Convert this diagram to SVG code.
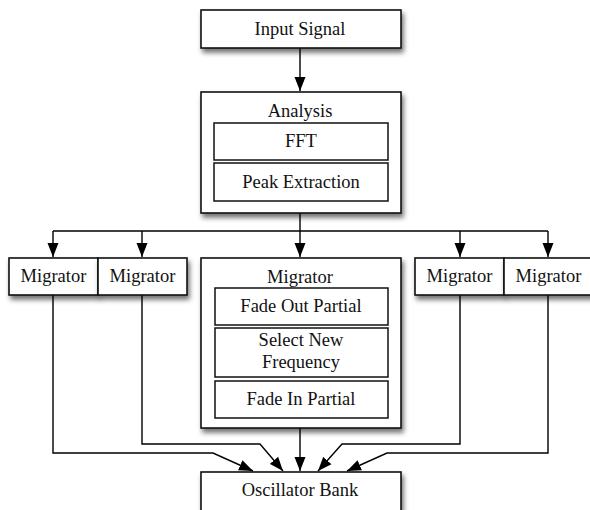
<svg xmlns="http://www.w3.org/2000/svg" width="590" height="510" viewBox="0 0 590 510">
<defs>
<filter id="sh" x="-10%" y="-10%" width="130%" height="140%">
<feDropShadow dx="2" dy="4" stdDeviation="2.5" flood-color="#000" flood-opacity="0.55"/>
</filter>
<marker id="ah" markerUnits="userSpaceOnUse" markerWidth="14" markerHeight="12" viewBox="0 0 14 12" refX="14" refY="6" orient="auto">
<path d="M0,0.5 L14,6 L0,11.5 z" fill="#000"/>
</marker>
<style>
.box{fill:#fff;stroke:#111;stroke-width:1.6}
.in{fill:#fff;stroke:#111;stroke-width:1.5}
.t{font-family:"Liberation Serif","Times New Roman",serif;font-size:18.5px;fill:#111;text-anchor:middle}
.c{fill:none;stroke:#000;stroke-width:1.4}
.a{fill:none;stroke:#000;stroke-width:1.4;marker-end:url(#ah)}
</style>
</defs>
<rect width="590" height="510" fill="#fff"/>

<g id="connectors">
<path class="a" d="M300,48 V91"/>
<path class="a" d="M300,213 V257"/>
<path class="c" d="M53,231 H548"/>
<path class="a" d="M53,231 V257"/>
<path class="a" d="M142,231 V257"/>
<path class="a" d="M460,231 V257"/>
<path class="a" d="M548,231 V257"/>
<path class="a" d="M53,295 V453 H213 L253,471"/>
<path class="a" d="M142,295 V444 H260 L283,471"/>
<path class="a" d="M300,428 V471"/>
<path class="a" d="M460,295 V444 H342 L318,471"/>
<path class="a" d="M548,295 V453 H387 L347,471"/>
</g>

<g id="input-signal">
<rect class="box" x="201" y="10" width="200" height="38" filter="url(#sh)"/>
<text class="t" x="300" y="35">Input Signal</text>
</g>

<g id="analysis">
<rect class="box" x="201" y="92" width="200" height="121" filter="url(#sh)"/>
<text class="t" x="300" y="117">Analysis</text>
<g id="fft">
<rect class="in" x="214" y="123" width="174" height="37"/>
<text class="t" x="301" y="147">FFT</text>
</g>
<g id="peak-extraction">
<rect class="in" x="214" y="163" width="174" height="38"/>
<text class="t" x="301" y="188">Peak Extraction</text>
</g>
</g>

<g id="migrator-1">
<rect class="box" x="9" y="258" width="89" height="37" filter="url(#sh)"/>
<text class="t" x="53.5" y="282">Migrator</text>
</g>
<g id="migrator-2">
<rect class="box" x="98" y="258" width="89" height="37" filter="url(#sh)"/>
<text class="t" x="142.5" y="282">Migrator</text>
</g>

<g id="migrator-main">
<rect class="box" x="201" y="258" width="200" height="170" filter="url(#sh)"/>
<text class="t" x="300" y="283">Migrator</text>
<g id="fade-out">
<rect class="in" x="215" y="288" width="173" height="37"/>
<text class="t" x="301" y="312">Fade Out Partial</text>
</g>
<g id="select-new-frequency">
<rect class="in" x="215" y="328" width="173" height="49"/>
<text class="t" x="301" y="346">Select New</text>
<text class="t" x="301" y="368">Frequency</text>
</g>
<g id="fade-in">
<rect class="in" x="215" y="381" width="173" height="37"/>
<text class="t" x="301" y="405">Fade In Partial</text>
</g>
</g>

<g id="migrator-3">
<rect class="box" x="415" y="258" width="89" height="37" filter="url(#sh)"/>
<text class="t" x="459.5" y="282">Migrator</text>
</g>
<g id="migrator-4">
<rect class="box" x="504" y="258" width="89" height="37" filter="url(#sh)"/>
<text class="t" x="548.5" y="282">Migrator</text>
</g>

<g id="oscillator-bank">
<rect class="box" x="201" y="472" width="200" height="40" filter="url(#sh)"/>
<text class="t" x="300" y="496">Oscillator Bank</text>
</g>
</svg>
